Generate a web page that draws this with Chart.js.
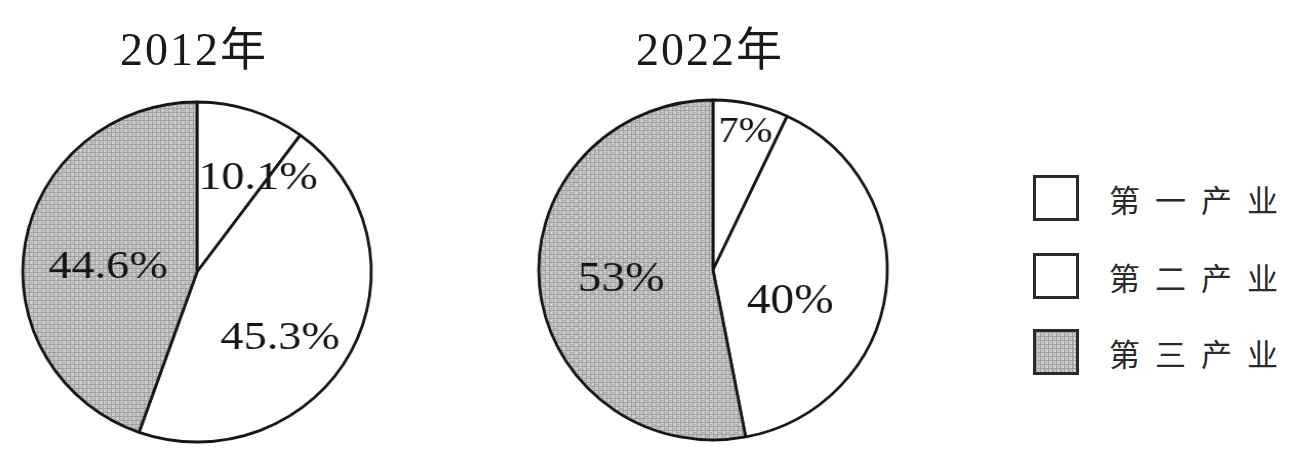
<!DOCTYPE html>
<html><head><meta charset="utf-8">
<script src="https://cdn.jsdelivr.net/npm/chart.js@4.4.0/dist/chart.umd.min.js"></script>
<style>
html,body{margin:0;padding:0;width:1291px;height:454px;overflow:hidden;background:#fff;}
#wrap{position:relative;width:1291px;height:454px;overflow:hidden;}
canvas{position:absolute;}
.title{position:absolute;font-family:"Liberation Serif","Noto Sans CJK SC",serif;font-size:46px;letter-spacing:2px;color:#1a1a1a;transform:translateX(-50%);white-space:nowrap;line-height:1;}
.leg{position:absolute;left:1033px;display:flex;align-items:center;height:46px;width:258px;white-space:nowrap;}
.box{flex:none;width:40px;height:40px;border:3px solid #2a2a2a;background:#fff;}
.ltxt{margin-left:30px;font-family:"Noto Sans CJK SC",sans-serif;font-weight:400;font-size:31px;letter-spacing:15px;color:#2a2a2a;white-space:nowrap;}
</style></head>
<body><div id="wrap">
<canvas id="c1" width="400" height="400"></canvas>
<canvas id="c2" width="400" height="400"></canvas>
<div class="title" id="t1"></div>
<div class="title" id="t2"></div>
<div id="legend"></div>
</div>
<script>
const categories = ['第一产业', '第二产业', '第三产业'];
const years = ['2012年', '2022年'];
const values2012 = [10.1, 45.3, 44.6];
const values2022 = [7, 40, 53];

// styling
const pies = [
  {id:'c1', cx:197, cy:272, title:'t1', values:values2012, year:years[0],
   shifts:[[33,-13],[6,26],[-3,10]], fonts:[41,41,41]},
  {id:'c2', cx:713, cy:270, title:'t2', values:values2022, year:years[1],
   shifts:[[13,-55],[-9,21],[-5,2]], fonts:[36,42,42]}
];

function makePattern(){
  const p = document.createElement('canvas');
  p.width = 8; p.height = 8;
  const g = p.getContext('2d');
  g.fillStyle = '#c9c9c9'; g.fillRect(0,0,8,8);
  g.fillStyle = '#a0a0a0';
  g.fillRect(0,0,8,1); g.fillRect(0,4,8,1);
  g.fillRect(0,0,1,8); g.fillRect(4,0,1,8);
  g.fillStyle = '#e2e2e2';
  g.fillRect(2,2,1,1); g.fillRect(6,6,1,1); g.fillRect(6,1,1,1);
  g.fillStyle = '#8e8e8e';
  g.fillRect(6,2,1,1); g.fillRect(2,6,1,1);
  return p;
}
const patCanvas = makePattern();

const labelPlugin = {
  id:'pieLabels',
  afterDatasetsDraw(chart, args, opts){
    const ctx = chart.ctx;
    const meta = chart.getDatasetMeta(0);
    const vals = chart.data.datasets[0].data;
    meta.data.forEach((arc,i)=>{
      const pt = arc.tooltipPosition();
      ctx.save();
      ctx.font = opts.fonts[i] + 'px "Liberation Serif", serif';
      ctx.fillStyle = '#151515';
      ctx.textAlign = 'center';
      ctx.textBaseline = 'middle';
      const x = pt.x + opts.shifts[i][0], y = pt.y + opts.shifts[i][1];
      ctx.translate(x,y); ctx.scale(1.1,1);
      ctx.fillText(vals[i] + '%', 0, 0);
      ctx.restore();
    });
  }
};

pies.forEach(p=>{
  const cv = document.getElementById(p.id);
  cv.style.left = (p.cx-200)+'px';
  cv.style.top = (p.cy-200)+'px';
  cv.style.width='400px'; cv.style.height='400px';
  cv.style.transform='scaleX(1.025)';
  const ctx = cv.getContext('2d');
  const pattern = ctx.createPattern(patCanvas,'repeat');
  new Chart(cv, {
    type:'pie',
    data:{labels:categories, datasets:[{data:p.values,
      backgroundColor:['#ffffff','#ffffff',pattern],
      borderColor:'#161616', borderWidth:2.8, hoverOffset:0}]},
    options:{responsive:false, animation:false, radius:170, rotation:0,
      layout:{padding:0},
      plugins:{legend:{display:false}, tooltip:{enabled:false},
        pieLabels:{shifts:p.shifts, fonts:p.fonts}}},
    plugins:[labelPlugin]
  });
  const t = document.getElementById(p.title);
  t.textContent = p.year;
  t.style.left = (p.cx-3)+'px';
  t.style.top = '27px';
});

const lg = document.getElementById('legend');
const legTops = [175, 253, 329];
categories.forEach((c,i)=>{
  const row = document.createElement('div');
  row.className='leg'; row.style.top = legTops[i]+'px';
  const b = document.createElement('div'); b.className='box';
  if(i===2){ b.style.background = 'url(' + patCanvas.toDataURL() + ')'; }
  const s = document.createElement('span'); s.className='ltxt'; s.textContent=c;
  row.appendChild(b); row.appendChild(s); lg.appendChild(row);
});
</script>
</body></html>
